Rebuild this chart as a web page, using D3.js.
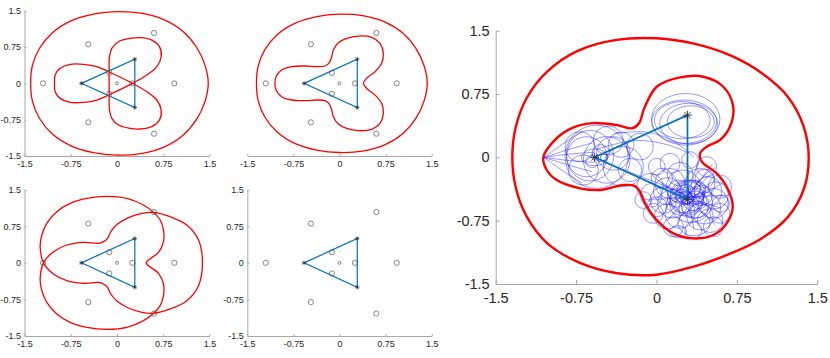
<!DOCTYPE html>
<html><head><meta charset="utf-8">
<script src="https://cdn.jsdelivr.net/npm/d3@7"></script>
<style>body{margin:0;background:#fff}svg{display:block}text{font-family:"Liberation Sans",Arial,Helvetica,sans-serif}</style>
</head><body><svg id="c" width="830" height="358"></svg>
<script>
// ---------- data ----------
const tickValues = [-1.5, -0.75, 0, 0.75, 1.5];
const tickLabels = ["-1.5", "-0.75", "0", "0.75", "1.5"];
const masses = [[-0.577, 0], [0.289, 0.5], [0.289, -0.5]];
const equilibria = [[0.25, 0], [-0.125, 0.217], [-0.125, -0.217], [0.93, 0], [-0.465, 0.805], [-0.465, -0.805], [-1.2, 0], [0.6, 1.04], [0.6, -1.04]];
const centerPoint = [[0, 0]];

const panel1Outer = [[1.48,0],[1.425,0.382],[1.29,0.745],[1.071,1.071],[0.76,1.316],[0.388,1.449],[0,1.48],[-0.383,1.43],[-0.745,1.29],[-1.047,1.047],[-1.256,0.725],[-1.372,0.368],[-1.4,0],[-1.372,-0.368],[-1.256,-0.725],[-1.047,-1.047],[-0.745,-1.29],[-0.383,-1.43],[0,-1.48],[0.388,-1.449],[0.76,-1.316],[1.071,-1.071],[1.29,-0.745],[1.425,-0.382]];
const panel1Inner = [[-0.122,0.55],[-0.127,0.235],[-0.127,-0.235],[-0.122,-0.55],[-0.084,-0.722],[0.024,-0.86],[0.214,-0.929],[0.376,-0.943],[0.565,-0.894],[0.689,-0.757],[0.716,-0.55],[0.646,-0.344],[0.484,-0.172],[0.251,0],[-0.127,0.235],[-0.327,0.344],[-0.543,0.392],[-0.759,0.392],[-0.922,0.31],[-1.003,0.172],[-1.014,0],[-1.003,-0.172],[-0.922,-0.31],[-0.759,-0.392],[-0.543,-0.392],[-0.327,-0.344],[-0.127,-0.235],[0.251,0],[0.484,0.172],[0.646,0.344],[0.716,0.55],[0.689,0.757],[0.565,0.894],[0.376,0.943],[0.214,0.929],[0.024,0.86],[-0.084,0.722]];
const panel2Outer = [[1.428,0],[1.375,0.368],[1.245,0.719],[1.034,1.034],[0.734,1.27],[0.375,1.399],[0,1.428],[-0.37,1.379],[-0.719,1.245],[-1.01,1.01],[-1.212,0.7],[-1.323,0.355],[-1.351,0],[-1.323,-0.355],[-1.212,-0.7],[-1.01,-1.01],[-0.719,-1.245],[-0.37,-1.379],[0,-1.428],[0.375,-1.399],[0.734,-1.27],[1.034,-1.034],[1.245,-0.719],[1.375,-0.368]];
const panel2Inner = [[0.388,0],[0.442,0.104],[0.578,0.241],[0.686,0.413],[0.713,0.619],[0.659,0.826],[0.524,0.95],[0.307,0.977],[0.117,0.929],[-0.019,0.839],[-0.1,0.688],[-0.127,0.55],[-0.165,0.427],[-0.236,0.358],[-0.372,0.344],[-0.561,0.358],[-0.778,0.344],[-0.941,0.275],[-1.033,0.138],[-1.05,0],[-1.033,-0.138],[-0.941,-0.275],[-0.778,-0.344],[-0.561,-0.358],[-0.372,-0.344],[-0.236,-0.358],[-0.165,-0.427],[-0.127,-0.55],[-0.1,-0.688],[-0.019,-0.839],[0.117,-0.929],[0.307,-0.977],[0.524,-0.95],[0.659,-0.826],[0.713,-0.619],[0.686,-0.413],[0.578,-0.241],[0.442,-0.104]];
const panel3Curve = [[-1.192,0],[-1.03,0.229],[-0.814,0.366],[-0.543,0.42],[-0.3,0.4],[-0.219,0.434],[-0.154,0.502],[-0.1,0.639],[0.003,0.789],[0.186,0.926],[0.403,1.015],[0.592,1.035],[0.862,0.946],[1.132,0.776],[1.322,0.468],[1.386,0],[1.322,-0.468],[1.132,-0.776],[0.862,-0.946],[0.592,-1.035],[0.403,-1.015],[0.186,-0.926],[0.003,-0.789],[-0.1,-0.639],[-0.154,-0.502],[-0.219,-0.434],[-0.3,-0.4],[-0.543,-0.42],[-0.814,-0.366],[-1.03,-0.229],[-1.192,0],[-1.246,0.332],[-1.219,0.571],[-1.138,0.81],[-0.976,1.049],[-0.759,1.22],[-0.489,1.322],[-0.165,1.363],[0.159,1.322],[0.43,1.186],[0.592,1.035],[0.7,0.878],[0.754,0.673],[0.754,0.434],[0.673,0.215],[0.511,0.058],[0.473,0],[0.511,-0.058],[0.673,-0.215],[0.754,-0.434],[0.754,-0.673],[0.7,-0.878],[0.592,-1.035],[0.43,-1.186],[0.159,-1.322],[-0.165,-1.363],[-0.489,-1.322],[-0.759,-1.22],[-0.976,-1.049],[-1.138,-0.81],[-1.219,-0.571],[-1.246,-0.332]];

const bigOuter = [[1.42,0],[1.372,0.368],[1.23,0.71],[0.99,0.99],[0.695,1.204],[0.36,1.343],[0,1.41],[-0.373,1.391],[-0.73,1.264],[-1.018,1.018],[-1.212,0.7],[-1.314,0.352],[-1.345,0],[-1.314,-0.352],[-1.212,-0.7],[-1.018,-1.018],[-0.72,-1.247],[-0.368,-1.372],[0,-1.39],[0.347,-1.294],[0.665,-1.152],[0.969,-0.969],[1.225,-0.708],[1.376,-0.369]];
const bigInner = [[-1.056,0],[-0.96,0.19],[-0.8,0.34],[-0.6,0.405],[-0.37,0.383],[-0.225,0.345],[-0.16,0.41],[-0.115,0.58],[0.002,0.836],[0.219,0.947],[0.437,0.955],[0.623,0.836],[0.716,0.6],[0.685,0.362],[0.592,0.205],[0.468,0.126],[0.406,0.047],[0.422,-0.052],[0.562,-0.19],[0.655,-0.348],[0.711,-0.585],[0.655,-0.782],[0.53,-0.92],[0.343,-0.96],[0.157,-0.9],[0.002,-0.743],[-0.107,-0.545],[-0.154,-0.407],[-0.201,-0.34],[-0.31,-0.328],[-0.527,-0.387],[-0.714,-0.367],[-0.931,-0.269],[-1.024,-0.15]];
const startPoint = [[-0.49, 0]];

// trajectory loops: [cx, cy, rx, ry]
const p1Loops = [[-0.559,0.007,0.295,0.375],[-0.651,0.007,0.187,0.237],[-0.465,-0.03,0.217,0.276],[-0.577,0,0.124,0.099],[-0.403,0.047,0.156,0.198],[-0.714,0.126,0.14,0.178],[-0.683,-0.15,0.14,0.178],[-0.31,-0.11,0.187,0.237],[-0.33,0.15,0.12,0.15],[-0.52,0.05,0.08,0.1],[-0.6,-0.05,0.06,0.07],[-0.45,0.2,0.14,0.17],[-0.154,0.126,0.124,0.158],[-0.247,-0.15,0.109,0.138],[-0.62,0.02,0.22,0.3]];
const p2Loops = [[0.273,0.451,0.319,0.306],[0.258,0.422,0.303,0.257],[0.3,0.4,0.27,0.24],[0.24,0.44,0.26,0.22],[0.32,0.42,0.22,0.19]];
const p3Loops = [[0.002,-0.111,0.078,0.099],[0.126,-0.071,0.093,0.118],[0.468,-0.111,0.093,0.118],[0.313,-0.032,0.078,0.099],[-0.061,-0.348,0.124,0.158],[0.126,-0.308,0.14,0.178],[0.406,-0.308,0.14,0.178],[0.592,-0.348,0.109,0.138],[0.282,-0.467,0.156,0.198],[0.063,-0.506,0.124,0.158],[0.53,-0.545,0.14,0.178],[0.219,-0.663,0.14,0.178],[0.406,-0.703,0.124,0.158],[0.592,-0.663,0.093,0.118],[-0.03,-0.663,0.093,0.118],[-0.123,-0.506,0.078,0.099],[0.157,-0.822,0.093,0.118],[0.53,-0.822,0.093,0.118],[0.343,-0.861,0.078,0.099],[0.002,-0.585,0.093,0.118],[0.33,-0.42,0.12,0.15],[0.24,-0.52,0.11,0.14],[0.36,-0.56,0.13,0.16],[0.2,-0.4,0.1,0.13],[0.42,-0.45,0.1,0.12],[0.3,-0.6,0.09,0.11],[0.15,-0.55,0.14,0.17],[0.45,-0.6,0.15,0.19],[0.25,-0.35,0.16,0.2],[0.38,-0.38,0.08,0.1],[0.28,-0.48,0.06,0.08],[0.32,-0.52,0.2,0.25],[0.1,-0.7,0.12,0.15],[0.5,-0.75,0.12,0.14],[0.55,-0.45,0.12,0.16],[-0.05,-0.45,0.1,0.14],[0.05,-0.25,0.1,0.12],[0.22,-0.2,0.12,0.14],[0.45,-0.25,0.09,0.11],[0.6,-0.55,0.08,0.1],[0.35,-0.78,0.15,0.15],[0.2,-0.88,0.08,0.07],[0.27,-0.44,0.09,0.12],[0.34,-0.5,0.1,0.13],[0.31,-0.45,0.14,0.1],[0.26,-0.55,0.17,0.14],[0.4,-0.52,0.07,0.09],[0.18,-0.48,0.08,0.11],[0.3,-0.38,0.11,0.09],[0.36,-0.62,0.12,0.1],[0.1,-0.4,0.13,0.16],[0.48,-0.4,0.13,0.17]];
const fanPaths = [[[-1.05,0],[-0.8,0.1],[-0.6,0.17]],[[-1.05,0],[-0.8,-0.1],[-0.6,-0.17]],[[-1.05,0],[-0.8,0.04],[-0.58,0.06]],[[-1.05,0],[-0.8,-0.04],[-0.58,-0.06]],[[-1.05,0],[-0.85,0.18],[-0.7,0.3]],[[-1.05,0],[-0.85,-0.18],[-0.7,-0.3]]];
const transitPaths = [[[0.28,-0.47],[0.42,-0.25],[0.52,-0.08]],[[0.28,-0.47],[0.46,-0.2],[0.55,-0.12]],[[0.3,-0.5],[0.35,-0.2],[0.4,-0.05]],[[-0.5,-0.05],[-0.2,-0.2],[0.1,-0.35],[0.3,-0.47]],[[-0.55,0.1],[-0.2,0.2],[0.1,0.15],[0.3,0.05]],[[-0.4,0.28],[-0.1,0.3],[0.15,0.2],[0.35,0]],[[0.05,-0.3],[0.3,-0.47],[0.6,-0.6]],[[0.1,-0.75],[0.3,-0.47],[0.5,-0.2]],[[0,-0.5],[0.3,-0.47],[0.65,-0.45]],[[0.3,-0.15],[0.3,-0.47],[0.35,-0.85]],[[0.15,-0.2],[0.3,-0.47],[0.55,-0.8]],[[-0.05,-0.2],[0.3,-0.48],[0.62,-0.3]]];

// ---------- drawing ----------
const svg = d3.select("#c");
const RED = "#ff0000", BLUE = "#0072BD", AX = "#a8a8a8", TXT = "#262626";

function makePanel(px0, px1, py0, py1, opt) {
  const g = svg.append("g");
  const x = d3.scaleLinear().domain([-1.5, 1.5]).range([px0, px1]);
  const y = d3.scaleLinear().domain([-1.5, 1.5]).range([py1, py0]);
  const fmt = (d, i) => tickLabels[i];
  const xa = g.append("g").attr("transform", `translate(0,${py1})`)
    .call(d3.axisBottom(x).tickValues(tickValues).tickFormat(fmt).tickSizeInner(-opt.tick).tickSizeOuter(0).tickPadding(opt.xpad));
  const ya = g.append("g").attr("transform", `translate(${px0},0)`)
    .call(d3.axisLeft(y).tickValues(tickValues).tickFormat(fmt).tickSizeInner(-opt.tick).tickSizeOuter(0).tickPadding(opt.ypad));
  [xa, ya].forEach(a => {
    a.select(".domain").attr("stroke", AX).attr("stroke-width", 1);
    a.selectAll(".tick line").attr("stroke", AX).attr("stroke-width", 1);
    a.selectAll("text").attr("fill", TXT).style("font-size", opt.fs + "px").attr("font-family", '"Liberation Sans",Arial,sans-serif');
  });
  if (opt.clipX) {
    const id = "clip" + Math.round(px0);
    svg.append("clipPath").attr("id", id).append("rect").attr("x", opt.clipX).attr("y", 0).attr("width", 830).attr("height", 358);
    ya.attr("clip-path", `url(#${id})`);
  }
  return {g, x, y};
}

const closedLine = (p) => d3.line().x(d => p.x(d[0])).y(d => p.y(d[1])).curve(d3.curveCatmullRomClosed.alpha(0.5));
const openLine = (p) => d3.line().x(d => p.x(d[0])).y(d => p.y(d[1])).curve(d3.curveCatmullRom.alpha(0.5));

function drawRed(p, pts, w) {
  p.g.append("path").attr("d", closedLine(p)(pts)).attr("fill", "none").attr("stroke", RED).attr("stroke-width", w).attr("stroke-linejoin", "round");
}
function drawTriangle(p, w) {
  p.g.append("path").attr("d", d3.line().x(d => p.x(d[0])).y(d => p.y(d[1])).curve(d3.curveLinearClosed)(masses))
    .attr("fill", "none").attr("stroke", BLUE).attr("stroke-width", w);
}
function drawAsterisks(p, s, w, pts) {
  const a = s * 0.707;
  p.g.selectAll(null).data(pts).enter().append("path")
    .attr("transform", d => `translate(${p.x(d[0])},${p.y(d[1])})`)
    .attr("d", `M${-s},0L${s},0M0,${-s}L0,${s}M${-a},${-a}L${a},${a}M${-a},${a}L${a},${-a}`)
    .attr("stroke", "#333").attr("stroke-width", w).attr("fill", "none");
}
function drawEquilibria(p) {
  p.g.selectAll(null).data(equilibria).enter().append("circle")
    .attr("cx", d => p.x(d[0])).attr("cy", d => p.y(d[1])).attr("r", 2.6)
    .attr("fill", "none").attr("stroke", "#555").attr("stroke-width", 0.7);
  p.g.selectAll(null).data(centerPoint).enter().append("circle")
    .attr("cx", d => p.x(d[0])).attr("cy", d => p.y(d[1])).attr("r", 1.5)
    .attr("fill", "none").attr("stroke", "#555").attr("stroke-width", 0.7);
}

const smallOpt = {fs: 9, tick: 2, xpad: 5, ypad: 3.5};
const p1 = makePanel(24.5, 209.5, 10.7, 156, smallOpt);
const p2 = makePanel(247.3, 431.7, 10.7, 156, Object.assign({}, smallOpt, {clipX: 231.5}));
const p3 = makePanel(24.5, 209.5, 189.7, 336, smallOpt);
const p4 = makePanel(247.3, 431.7, 189.7, 336, smallOpt);

drawRed(p1, panel1Outer, 1.3); drawRed(p1, panel1Inner, 1.3);
drawRed(p2, panel2Outer, 1.3); drawRed(p2, panel2Inner, 1.3);
drawRed(p3, panel3Curve, 1.3);
[p1, p2, p3, p4].forEach(p => { drawTriangle(p, 1.2); drawAsterisks(p, 2.2, 0.7, masses); drawEquilibria(p); });

// big panel
const pb = makePanel(495.7, 817.3, 30.7, 284, {fs: 14.5, tick: 4, xpad: 9, ypad: 6});
const traj = pb.g.append("g").attr("fill", "none").attr("stroke", "#1010ff").attr("stroke-width", 0.55).attr("stroke-opacity", 0.8);
const allLoops = p1Loops.concat(p2Loops, p3Loops);
traj.selectAll("ellipse").data(allLoops).enter().append("ellipse")
  .attr("cx", d => pb.x(d[0])).attr("cy", d => pb.y(d[1]))
  .attr("rx", d => pb.x(d[0] + d[2]) - pb.x(d[0]))
  .attr("ry", d => pb.y(d[1]) - pb.y(d[1] + d[3]));
traj.selectAll("path").data(fanPaths.concat(transitPaths)).enter().append("path").attr("d", d => openLine(pb)(d));
drawRed(pb, bigOuter, 2.4); drawRed(pb, bigInner, 2.4);
drawTriangle(pb, 1.7);
drawAsterisks(pb, 4.5, 0.9, masses);
pb.g.selectAll(null).data(startPoint).enter().append("circle")
  .attr("cx", d => pb.x(d[0])).attr("cy", d => pb.y(d[1])).attr("r", 3.5)
  .attr("fill", "none").attr("stroke", "#2a4fb0").attr("stroke-width", 0.8);
</script>
</body></html>
